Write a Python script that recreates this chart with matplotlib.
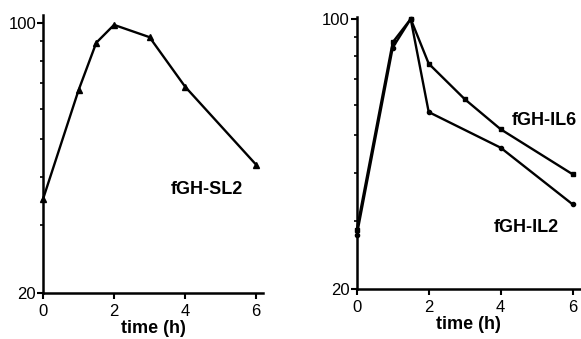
import numpy as np
import matplotlib
matplotlib.use("Agg")
import matplotlib.pyplot as plt
from matplotlib.ticker import FixedLocator, FixedFormatter, NullFormatter

plt.rcParams['font.family'] = ['Liberation Sans', 'DejaVu Sans']

# left panel: fGH-SL2
t_sl2 = [0, 1, 1.5, 2, 3, 4, 6]
sl2 = [35, 67, 89, 99, 92, 68.5, 43]

# right panel
t_il6 = [0, 1, 1.5, 2, 3, 4, 6]
il6 = [28.4, 87, 100, 76.6, 62, 51.8, 39.6]
t_il2 = [0, 1, 1.5, 2, 4, 6]
il2 = [27.5, 84.3, 100, 57.4, 46.4, 33.1]

x_ticks = [0, 2, 4, 6]
y_major = [20, 100]
y_labels = ['20', '100']
y_minor = [30, 40, 50, 60, 70, 80, 90]

fig = plt.figure(figsize=(5.81, 3.39), dpi=100)
ax1 = fig.add_axes([0.074, 0.1357, 0.379, 0.820])
ax2 = fig.add_axes([0.614, 0.148, 0.384, 0.801])


def style(ax, ytop):
    ax.set_yscale('log')
    ax.set_ylim(20, ytop)
    ax.set_xlim(0, 6.2)
    for s in ['top', 'right']:
        ax.spines[s].set_visible(False)
    for s in ['left', 'bottom']:
        ax.spines[s].set_linewidth(1.8)
    ax.yaxis.set_major_locator(FixedLocator(y_major))
    ax.yaxis.set_major_formatter(FixedFormatter(y_labels))
    ax.yaxis.set_minor_locator(FixedLocator(y_minor))
    ax.yaxis.set_minor_formatter(NullFormatter())
    ax.set_xticks(x_ticks)
    ax.tick_params(axis='both', which='major', length=4, width=1.5, labelsize=12)
    ax.tick_params(axis='x', which='major', pad=4)
    ax.tick_params(axis='y', which='major', pad=1)
    ax.tick_params(axis='y', which='minor', length=2.5, width=1.2)
    ax.set_xlabel('time (h)', fontsize=13, fontweight='bold', labelpad=1)


style(ax1, 105)
style(ax2, 101)

ax1.plot(t_sl2, sl2, color='black', lw=1.7, marker='^', ms=4, clip_on=False)
ax1.text(3.6, 37, 'fGH-SL2', fontsize=13, fontweight='bold', va='center', ha='left')

ax2.plot(t_il6, il6, color='black', lw=1.7, marker='s', ms=3.5, clip_on=False)
ax2.plot(t_il2, il2, color='black', lw=1.7, marker='o', ms=3, clip_on=False)
ax2.text(4.3, 54.5, 'fGH-IL6', fontsize=13, fontweight='bold', va='center', ha='left')
ax2.text(3.81, 28.9, 'fGH-IL2', fontsize=13, fontweight='bold', va='center', ha='left')

fig.savefig('out.png', dpi=100)
